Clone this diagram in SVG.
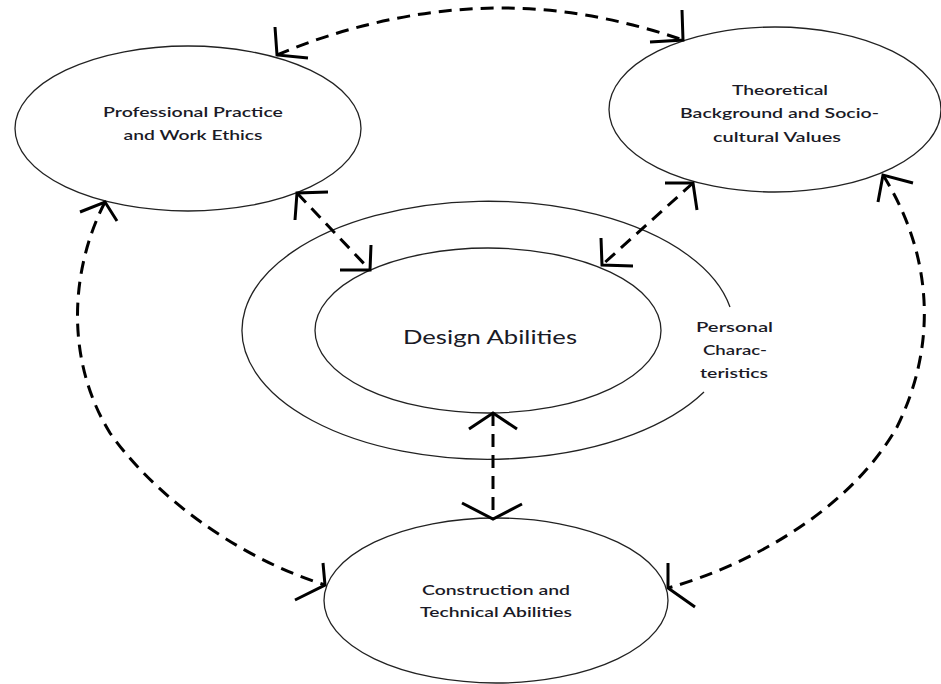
<svg xmlns="http://www.w3.org/2000/svg" width="941" height="684" viewBox="0 0 941 684">
<style>
.shape{fill:#fff;stroke:#222;stroke-width:1.3}
.arc{fill:none;stroke:#222;stroke-width:1.3}
.lbl{font-family:Lato,"Liberation Sans",sans-serif;font-size:14px;font-weight:600;fill:#1a1a26;text-anchor:middle}
.big{font-size:20px;font-weight:normal}
.conn{fill:none;stroke:#000;stroke-width:3;stroke-dasharray:13 8}
.head{fill:none;stroke:#000;stroke-width:3}
</style>
<rect width="941" height="684" fill="#fff"/>
<g id="professional">
<ellipse class="shape" cx="188" cy="128.5" rx="173" ry="82.5"/>
<text class="lbl" x="193" y="117" textLength="180" lengthAdjust="spacingAndGlyphs">Professional Practice</text>
<text class="lbl" x="193" y="140" textLength="139" lengthAdjust="spacingAndGlyphs">and Work Ethics</text>
</g>
<g id="theoretical">
<ellipse class="shape" cx="775" cy="109.5" rx="166" ry="82.5"/>
<text class="lbl" x="780" y="95" textLength="96" lengthAdjust="spacingAndGlyphs">Theoretical</text>
<text class="lbl" x="779.5" y="118" textLength="199" lengthAdjust="spacingAndGlyphs">Background and Socio-</text>
<text class="lbl" x="777" y="142" textLength="128" lengthAdjust="spacingAndGlyphs">cultural Values</text>
</g>
<g id="personal">
<path class="arc" d="M 730,307 A 246 129 0 1 0 704,392"/>
<text class="lbl" x="734.5" y="332" textLength="77" lengthAdjust="spacingAndGlyphs">Personal</text>
<text class="lbl" x="735" y="355" textLength="64" lengthAdjust="spacingAndGlyphs">Charac-</text>
<text class="lbl" x="734" y="378" textLength="68" lengthAdjust="spacingAndGlyphs">teristics</text>
</g>
<g id="design">
<ellipse class="shape" cx="488" cy="330.5" rx="173" ry="82.5"/>
<text class="lbl big" x="490" y="344" textLength="174" lengthAdjust="spacingAndGlyphs">Design Abilities</text>
</g>
<g id="construction">
<ellipse class="shape" cx="496" cy="600.5" rx="172" ry="82.5"/>
<text class="lbl" x="496" y="595" textLength="148" lengthAdjust="spacingAndGlyphs">Construction and</text>
<text class="lbl" x="496" y="617" textLength="152" lengthAdjust="spacingAndGlyphs">Technical Abilities</text>
</g>
<g id="connectors">
<path class="conn" d="M 277,55 C 340,28 420,8 500,8 C 570,8 630,22 683,40"/>
<polyline class="head" points="275,27 277,55 308,58"/>
<polyline class="head" points="682,10 683,40 650,42"/>
<path class="conn" d="M 105,202 C 70,270 65,360 110,433 C 150,490 230,555 325,585"/>
<polyline class="head" points="80,212 105,202 117,221"/>
<polyline class="head" points="323,563 325,585 295,600"/>
<path class="conn" d="M 883,175 C 930,250 940,340 897,427 C 850,510 750,565 668,588"/>
<polyline class="head" points="913,183 883,175 878,202"/>
<polyline class="head" points="668,563 668,588 695,607"/>
<path class="conn" d="M 297,193 L 370,270"/>
<polyline class="head" points="328,192 297,193 295,220"/>
<polyline class="head" points="371,245 370,270 340,270"/>
<path class="conn" d="M 693,183 L 602,265"/>
<polyline class="head" points="665,183 693,183 697,210"/>
<polyline class="head" points="601,238 602,265 633,266"/>
<path class="conn" d="M 493,413 L 493,519"/>
<polyline class="head" points="469,429 493,413 517,429"/>
<polyline class="head" points="462,503 493,519 522,504"/>
</g>
</svg>
